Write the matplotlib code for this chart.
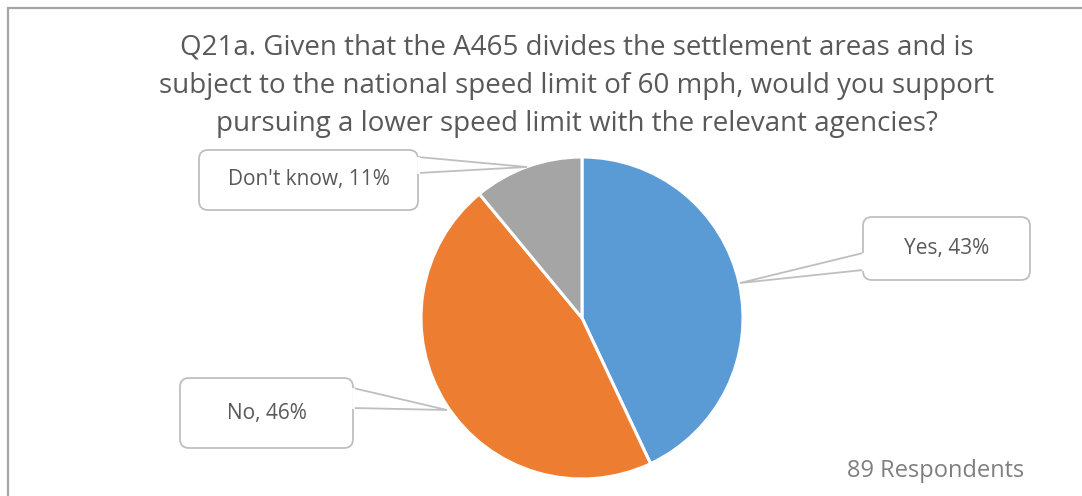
import matplotlib.pyplot as plt
from matplotlib.patches import FancyBboxPatch, Polygon, Rectangle

plt.rcParams['font.family'] = ['Open Sans', 'DejaVu Sans']

# === Data ===
labels = ["Yes", "No", "Don't know"]
shares = [43, 46, 11]
colors = ["#5B9BD5", "#ED7D31", "#A5A5A5"]
title = ("Q21a. Given that the A465 divides the settlement areas and is\n"
         "subject to the national speed limit of 60 mph, would you support\n"
         "pursuing a lower speed limit with the relevant agencies?")
note = "89 Respondents"

W, H = 1082, 496
fig = plt.figure(figsize=(W / 100, H / 100), dpi=100)
ax = fig.add_axes([0, 0, 1, 1])
ax.set_xlim(0, W)
ax.set_ylim(0, H)
ax.set_aspect('equal')
ax.axis('off')


def Y(y):
    # pixel row (from top) -> axes y
    return H - y


# chart border
ax.add_patch(Rectangle((8, Y(520)), 1100, 512, fill=False,
                       edgecolor="#A6A6A6", linewidth=1.6))

# title
ax.text(577, Y(86), title, ha='center', va='center', fontsize=20,
        color="#595959", linespacing=1.49)

# pie
wedges, _ = ax.pie(shares, colors=colors, startangle=90, counterclock=False,
                   center=(582, Y(318)), radius=161,
                   wedgeprops=dict(edgecolor='white', linewidth=2.2))
ax.set_xlim(0, W)
ax.set_ylim(0, H)

# callouts: box (x0, y0, x1, y1), pointer base points on box edge, tip
callouts = [
    ((863, 217, 1030, 280), [(863, 253), (863, 270)], (740, 283)),
    ((180, 378, 353, 448), [(353, 388), (353, 408)], (447, 410)),
    ((199, 150, 418, 210), [(418, 157), (418, 173)], (527, 167)),
]
for (lab, val), (box, base, tip) in zip(zip(labels, shares), callouts):
    x0, y0, x1, y1 = box
    ax.add_patch(FancyBboxPatch((x0, Y(y1)), x1 - x0, y1 - y0,
                                boxstyle="round,pad=0,rounding_size=9",
                                facecolor='white', edgecolor="#BFBFBF",
                                linewidth=1.3, zorder=3))
    ax.add_patch(Polygon([(base[0][0], Y(base[0][1])), (tip[0], Y(tip[1])),
                          (base[1][0], Y(base[1][1]))], closed=False,
                         facecolor='white', edgecolor="#BFBFBF",
                         linewidth=1.3, zorder=3))
    # cover the box edge where the pointer joins
    ax.plot([base[0][0], base[1][0]], [Y(base[0][1]) - 1, Y(base[1][1]) + 1],
            color='white', linewidth=2.0, zorder=4)
    ax.text((x0 + x1) / 2, Y((y0 + y1) / 2), f"{lab}, {val}%",
            ha='center', va='center', fontsize=15, color="#595959", zorder=5)

ax.text(936, Y(471), note, ha='center', va='center', fontsize=17,
        color="#7F7F7F")

fig.savefig("out.png", dpi=100)
